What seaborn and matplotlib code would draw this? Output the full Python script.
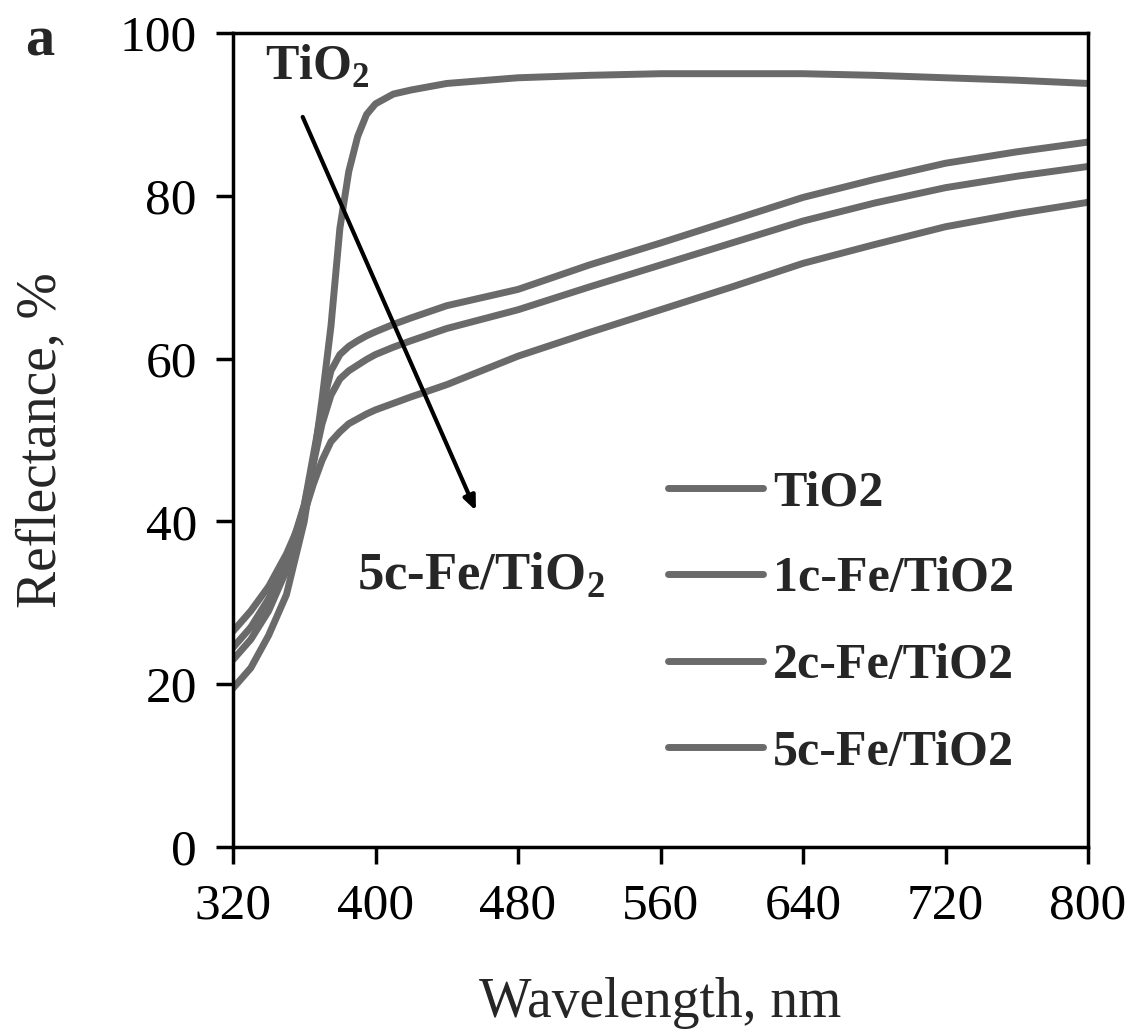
import numpy as np
import pandas as pd
import matplotlib
matplotlib.use("Agg")
import matplotlib.pyplot as plt
import seaborn as sns

wavelength = [320, 330, 340, 350, 360, 365, 370, 375, 380, 385, 390, 395, 400, 410, 420, 440,
              480, 520, 560, 600, 640, 680, 720, 760, 800]
tio2 = [19.5, 22, 26, 31, 40, 47, 55, 64, 76, 83, 87.3, 90, 91.3, 92.5, 93, 93.8,
        94.5, 94.8, 95, 95, 95, 94.8, 94.5, 94.2, 93.8]
fe1c = [23, 25.5, 29, 34, 42, 48, 54, 58.5, 60.5, 61.5, 62.2, 62.8, 63.3, 64.2, 65, 66.5,
        68.5, 71.5, 74.2, 77, 79.8, 82, 84, 85.4, 86.6]
fe2c = [24.5, 27, 30.5, 35, 42, 47, 52, 55.5, 57.5, 58.5, 59.2, 59.9, 60.5, 61.4, 62.2, 63.7,
        66, 68.8, 71.5, 74.2, 76.9, 79.1, 81, 82.4, 83.6]
fe5c = [26.5, 29, 32, 36, 41, 44.5, 47.5, 49.8, 51, 52, 52.6, 53.2, 53.7, 54.5, 55.3, 56.8,
        60.3, 63.2, 66, 68.8, 71.7, 74, 76.2, 77.8, 79.2]
series_names = ["TiO2", "1c-Fe/TiO2", "2c-Fe/TiO2", "5c-Fe/TiO2"]
xticks = [320, 400, 480, 560, 640, 720, 800]
yticks = [0, 20, 40, 60, 80, 100]

df = pd.DataFrame({
    "Wavelength": wavelength * 4,
    "Reflectance": tio2 + fe1c + fe2c + fe5c,
    "Sample": sum([[n] * len(wavelength) for n in series_names], []),
})

sns.set_theme(style="ticks")
plt.rcParams["font.family"] = ["Liberation Serif", "DejaVu Serif"]
plt.rcParams["mathtext.fontset"] = "custom"
plt.rcParams["mathtext.rm"] = "Liberation Serif"
plt.rcParams["mathtext.bf"] = "Liberation Serif:bold"

fig = plt.figure(figsize=(11.27, 10.35), dpi=100)
ax = fig.add_axes([233 / 1127, 1 - 847 / 1035, (1088 - 233) / 1127, (847 - 33) / 1035])

line_color = "#6a6a6a"
sns.lineplot(data=df, x="Wavelength", y="Reflectance", hue="Sample",
             palette=[line_color] * 4, hue_order=series_names,
             linewidth=5, ax=ax, legend=True)

ax.set_xlim(320, 800)
ax.set_ylim(0, 100)
ax.set_xticks(xticks)
ax.set_yticks(yticks)
ax.tick_params(axis="both", direction="out", length=12, width=2.5,
               labelsize=37, colors="black", pad=14)
for s in ax.spines.values():
    s.set_linewidth(2.5)
    s.set_color("black")

ax.set_xlabel("Wavelength, nm", fontsize=40, labelpad=34)
ax.set_ylabel("Reflectance, %", fontsize=40, labelpad=38)

leg = ax.legend(handles=ax.get_legend().legend_handles, labels=series_names,
                frameon=False, loc="upper left",
                bbox_to_anchor=(668 / 1127, 1 - 470 / 1035),
                bbox_transform=fig.transFigure, borderaxespad=0, borderpad=0,
                handlelength=1.9, handletextpad=0.2, labelspacing=0.81,
                prop={"size": 36, "weight": "bold"})
for h in leg.legend_handles:
    h.set_linewidth(5)
    h.set_color(line_color)

ax.annotate("", xy=(457, 41), xytext=(358.5, 90),
            arrowprops=dict(arrowstyle="-|>,head_length=0.7,head_width=0.3",
                            color="black", lw=3))
ax.text(338, 95.8, "TiO$_\\mathbf{2}$", fontsize=36, fontweight="bold",
        ha="left", va="center")
ax.text(389.5, 33.3, "5c-Fe/TiO$_\\mathbf{2}$", fontsize=38, fontweight="bold",
        ha="left", va="center")
fig.text(40 / 1127, 1 - 42 / 1035, "a", fontsize=42, fontweight="bold",
         ha="center", va="center")

fig.savefig("out.png", dpi=100)
